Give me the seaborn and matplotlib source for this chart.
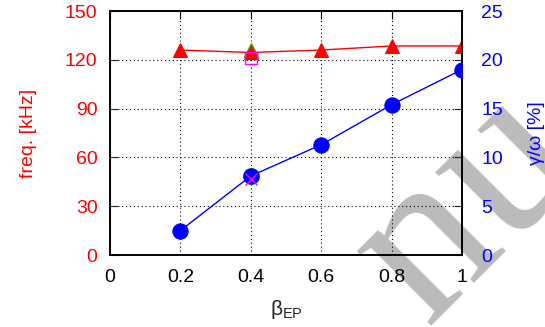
import matplotlib
matplotlib.use("Agg")
import matplotlib.pyplot as plt
import seaborn as sns
import pandas as pd

beta_ep = [0.2, 0.4, 0.6, 0.8, 1.0]
freq_khz = [126, 124.5, 126, 128.5, 128.5]
growth_pct = [2.5, 8.1, 11.3, 15.4, 19.0]

beta_ref = [0.4]
freq_ref_a = [126]
freq_ref_b = [121]
growth_ref_a = [8.1]
growth_ref_b = [7.8]

x_ticks = [0, 0.2, 0.4, 0.6, 0.8, 1]
x_tick_labels = ["0", "0.2", "0.4", "0.6", "0.8", "1"]
freq_ticks = [0, 30, 60, 90, 120, 150]
growth_ticks = [0, 5, 10, 15, 20, 25]

sns.set_style("white")
plt.rcParams["font.family"] = ["Liberation Sans", "DejaVu Sans"]
plt.rcParams["font.size"] = 14

df = pd.DataFrame({"beta": beta_ep, "freq": freq_khz, "growth": growth_pct})

fig = plt.figure(figsize=(5.45, 3.27), dpi=100)
# light grey stamp lettering behind the plot
fig.text(0.86, 0.37, "nu", family="Liberation Serif", fontsize=165, color="#bbbbbb",
         rotation=45, ha="center", va="center", zorder=-5)

ax = fig.add_axes([110 / 545, 1 - 255 / 327, 352 / 545, 244 / 327])
ax.set_facecolor("none")
ax2 = ax.twinx()
ax2.set_facecolor("none")

sns.lineplot(data=df, x="beta", y="freq", ax=ax, color="red", lw=1,
             marker="^", markersize=10, markeredgecolor="red", zorder=3)
ax.plot(beta_ref, freq_ref_a, ls="none", marker="^", markersize=10,
        markerfacecolor="none", markeredgecolor="#00dd00", mew=1, zorder=2)
ax.plot(beta_ref, freq_ref_b, ls="none", marker="s", markersize=8,
        markerfacecolor="none", markeredgecolor="#ff00ff", mew=1, zorder=4)

sns.lineplot(data=df, x="beta", y="growth", ax=ax2, color="blue", lw=1,
             marker="o", markersize=11, markeredgecolor="blue", zorder=3)
ax2.plot(beta_ref, growth_ref_a, ls="none", marker="o", markersize=11,
         markerfacecolor="none", markeredgecolor="#00dd00", mew=1.2, zorder=2)
ax2.plot(beta_ref, growth_ref_b, ls="none", marker="x", markersize=8,
         color="#ff00ff", mew=1, zorder=4)

ax.set_xlim(0, 1)
ax.set_ylim(0, 150)
ax2.set_ylim(0, 25)
ax.set_xticks(x_ticks)
ax.set_xticklabels(x_tick_labels)
ax.set_yticks(freq_ticks)
ax2.set_yticks(growth_ticks)

ax.grid(True, ls=(0, (1, 2.5)), color="black", lw=0.8)
for spine in list(ax.spines.values()) + list(ax2.spines.values()):
    spine.set_color("black")
    spine.set_linewidth(1.2)

ax.tick_params(axis="x", direction="in", length=6, top=True, colors="black",
               labelcolor="black", pad=10)
ax.tick_params(axis="y", direction="in", length=6, labelcolor="red", pad=9)
ax2.tick_params(axis="y", direction="in", length=6, labelcolor="blue", pad=14)

ax.set_xlabel(r"$\mathregular{\beta_{EP}}$", fontsize=15, labelpad=9)
ax.set_ylabel("freq. [kHz]", color="red", labelpad=20)
ax2.set_ylabel("γ/ω [%]", color="blue", rotation=90, labelpad=18)

fig.savefig("out.png", dpi=100)
